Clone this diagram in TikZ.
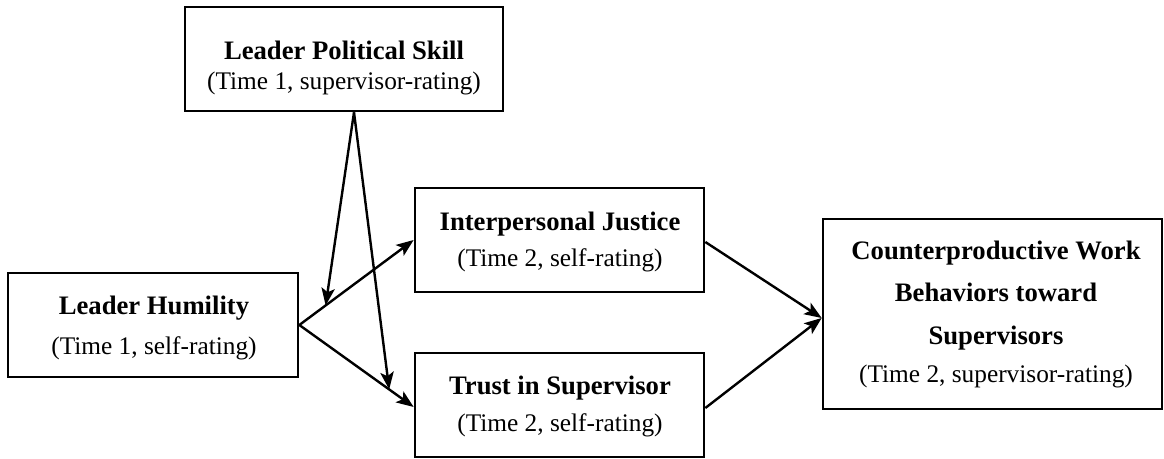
\documentclass[tikz,border=0pt]{standalone}
\usepackage{fontspec}
\setmainfont{Liberation Serif}
\usetikzlibrary{arrows.meta,calc}
\begin{document}
\begin{tikzpicture}[x=0.75pt,y=-0.75pt,
  box/.style={draw,line width=2pt,rectangle,inner sep=0pt},
  title/.style={anchor=base,inner sep=0pt,font=\fontsize{20}{24}\selectfont\bfseries},
  sub/.style={anchor=base,inner sep=0pt,font=\fontsize{19}{23}\selectfont},
  link/.style={line width=1.8pt,-{Stealth[length=13pt,width=10pt,inset=3pt]}}]
\useasboundingbox (0,0) rectangle (1164,459);

% boxes (size given in px, 1px = 0.75pt)
\node[box,minimum width=318*0.75pt,minimum height=104*0.75pt] (ps)  at (344,59)  {};
\node[box,minimum width=290*0.75pt,minimum height=104*0.75pt] (hum) at (153,325) {};
\node[box,minimum width=289*0.75pt,minimum height=104*0.75pt] (ij)  at (559.5,240) {};
\node[box,minimum width=289*0.75pt,minimum height=104*0.75pt] (tr)  at (559.5,405) {};
\node[box,minimum width=339*0.75pt,minimum height=190*0.75pt] (cwb) at (992.5,314) {};

% labels
\node[title] (psA) at (344,60) {Leader Political Skill};
\node[sub]   (psB) at (344,90) {(Time 1, supervisor-rating)};
\node[title] (humA) at (154,315) {Leader Humility};
\node[sub]   (humB) at (154,355) {(Time 1, self-rating)};
\node[title] (ijA) at (560,231) {Interpersonal Justice};
\node[sub]   (ijB) at (560,267) {(Time 2, self-rating)};
\node[title] (trA) at (560,395) {Trust in Supervisor};
\node[sub]   (trB) at (560,432) {(Time 2, self-rating)};
\node[title] (cwA) at (996,260) {Counterproductive Work};
\node[title] (cwB) at (996,302) {Behaviors toward};
\node[title] (cwC) at (996,345) {Supervisors};
\node[sub]   (cwD) at (996,383) {(Time 2, supervisor-rating)};

% main paths
\coordinate (ijIn) at (ij.west);
\coordinate (trIn) at ([yshift=-2*0.75pt]tr.west);
\coordinate (cwIn) at ([yshift=-4*0.75pt]cwb.west);
\draw[link] (hum.east) -- (ijIn);
\draw[link] (hum.east) -- (trIn);
\draw[link] ([yshift=-2*0.75pt]ij.east) -- (cwIn);
\draw[link] ([yshift=-3*0.75pt]tr.east) -- (cwIn);

% moderation arrows onto the paths
\coordinate (psOut) at ([xshift=10*0.75pt]ps.south);
\coordinate (modA) at ($(hum.east)!0.23!(ijIn)$);
\coordinate (modB) at ($(hum.east)!0.786!(trIn)$);
\draw[link] (psOut) -- (modA);
\draw[link] (psOut) -- (modB);
\end{tikzpicture}
\end{document}
